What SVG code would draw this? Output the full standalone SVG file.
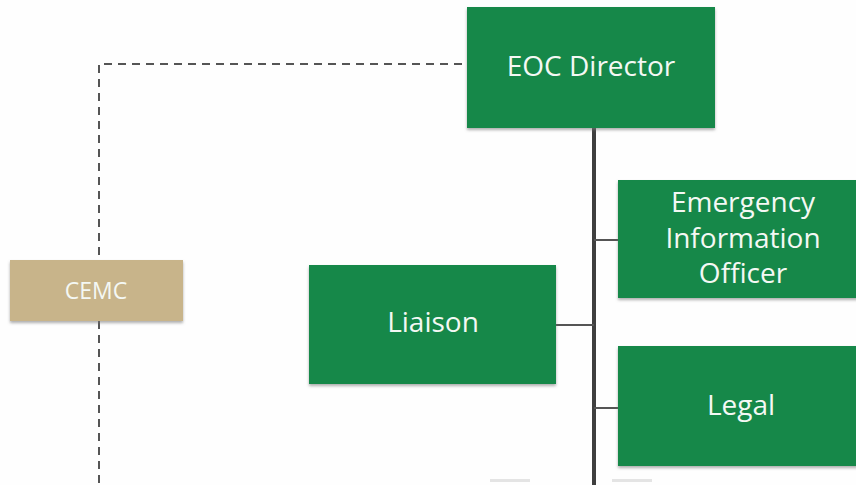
<svg xmlns="http://www.w3.org/2000/svg" width="856" height="485" viewBox="0 0 856 485">
<defs>
<filter id="sh" x="-5%" y="-5%" width="110%" height="115%">
<feDropShadow dx="0" dy="2" stdDeviation="1.5" flood-color="#777" flood-opacity="0.6"/>
</filter>
</defs>
<style>
.g{fill:#13884a;filter:url(#sh)}
.t{fill:#f4f8f4;font-family:"Open Sans","Liberation Sans",sans-serif;font-size:28px;text-anchor:middle}
.tan{fill:#c8b48a;filter:url(#sh)}
.dash{stroke:#555;stroke-width:2;stroke-dasharray:8,6;fill:none}
.solid{stroke:#3f3f3f;stroke-width:4;fill:none}
.tick{stroke:#555;stroke-width:2;fill:none}
</style>
<rect width="856" height="485" fill="#fefefe"/>
<g id="connectors">
<path class="dash" d="M462,64 H99 V260"/>
<path class="dash" d="M99,321 V485"/>
<path class="solid" d="M594,128 V485"/>
<path class="tick" d="M594,240 H618"/>
<path class="tick" d="M556,325 H594"/>
<path class="tick" d="M594,408 H618"/>
</g>
<g id="eoc-director">
<rect class="g" x="467" y="7" width="248" height="121"/>
<text class="t" x="591" y="76">EOC Director</text>
</g>
<g id="emergency-information-officer">
<rect class="g" x="618" y="180" width="240" height="118"/>
<text class="t" x="743" y="212">Emergency</text>
<text class="t" x="743" y="248">Information</text>
<text class="t" x="743" y="283">Officer</text>
</g>
<g id="liaison">
<rect class="g" x="309" y="265" width="247" height="119"/>
<text class="t" x="433" y="332">Liaison</text>
</g>
<g id="legal">
<rect class="g" x="618" y="346" width="240" height="120"/>
<text class="t" x="741" y="415">Legal</text>
</g>
<g id="cemc">
<rect class="tan" x="10" y="260" width="173" height="61"/>
<text class="t" x="96" y="299" style="font-size:23px">CEMC</text>
</g>
<rect x="490" y="479" width="40" height="3" fill="#e4e4e4"/>
<rect x="612" y="479" width="40" height="3" fill="#e4e4e4"/>
</svg>
